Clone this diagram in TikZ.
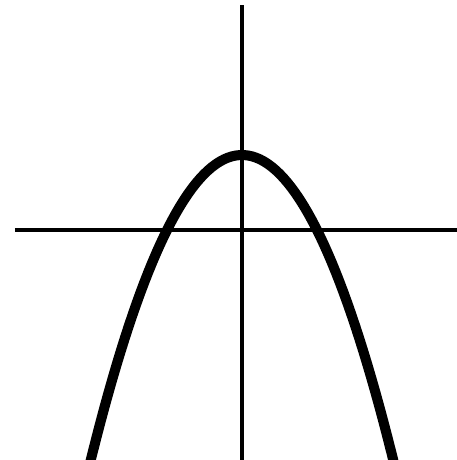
\documentclass[tikz,border=0pt]{standalone}
\begin{document}
\begin{tikzpicture}[x=1cm,y=1cm,
  axisline/.style={line width=1.5pt},
  curve/.style={line width=3.8pt}]
\useasboundingbox (-3.227,-3.067) rectangle (2.867,3.067);
\clip (-3.227,-3.067) rectangle (2.867,3.067);
\coordinate (xl) at (-3.027,0);
\coordinate (xr) at (2.9,0);
\coordinate (yt) at (0,3.0);
\coordinate (yb) at (0,-3.1);
\draw[axisline] (xl) -- (xr);
\draw[axisline] (yt) -- (yb);
\draw[curve,domain=-2.1:2.1,samples=80] plot (\x,{1-\x*\x});
\end{tikzpicture}
\end{document}
